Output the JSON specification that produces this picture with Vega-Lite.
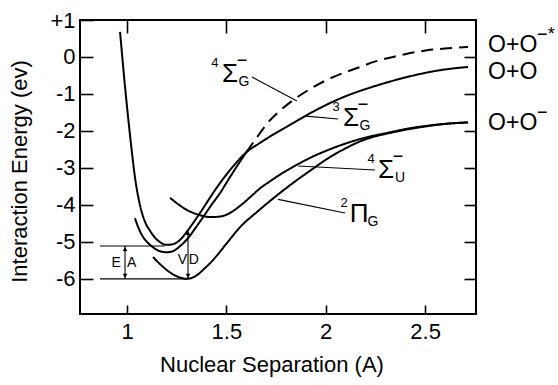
{
  "$schema": "https://vega.github.io/schema/vega-lite/v6.json",
  "width": 396,
  "height": 294,
  "autosize": {"type": "none"},
  "padding": {"left": 80, "top": 20, "right": 82, "bottom": 71},
  "background": "white",
  "config": {
    "view": {"stroke": "black", "strokeWidth": 2},
    "font": "Liberation Sans",
    "axis": {"domain": false, "grid": false, "tickColor": "black", "labelColor": "black", "titleColor": "black", "labelFont": "Liberation Sans", "titleFont": "Liberation Sans", "titleFontWeight": "normal", "tickWidth": 1.6}
  },
  "datasets": {
    "curves": [
      {"series": "3Sg", "x": 0.965, "y": 0.68}, {"series": "3Sg", "x": 0.99, "y": -0.8}, {"series": "3Sg", "x": 1.02, "y": -2.35}, {"series": "3Sg", "x": 1.04, "y": -3.25}, {"series": "3Sg", "x": 1.065, "y": -4.0}, {"series": "3Sg", "x": 1.09, "y": -4.45}, {"series": "3Sg", "x": 1.116, "y": -4.7}, {"series": "3Sg", "x": 1.14, "y": -4.88}, {"series": "3Sg", "x": 1.164, "y": -5.0}, {"series": "3Sg", "x": 1.2, "y": -5.08}, {"series": "3Sg", "x": 1.232, "y": -5.06}, {"series": "3Sg", "x": 1.27, "y": -4.93}, {"series": "3Sg", "x": 1.307, "y": -4.68}, {"series": "3Sg", "x": 1.367, "y": -4.22}, {"series": "3Sg", "x": 1.443, "y": -3.6}, {"series": "3Sg", "x": 1.483, "y": -3.3}, {"series": "3Sg", "x": 1.54, "y": -2.92}, {"series": "3Sg", "x": 1.6, "y": -2.58}, {"series": "3Sg", "x": 1.67, "y": -2.32}, {"series": "3Sg", "x": 1.735, "y": -2.1}, {"series": "3Sg", "x": 1.8, "y": -1.9}, {"series": "3Sg", "x": 1.886, "y": -1.63}, {"series": "3Sg", "x": 1.95, "y": -1.44}, {"series": "3Sg", "x": 2.02, "y": -1.25}, {"series": "3Sg", "x": 2.087, "y": -1.09}, {"series": "3Sg", "x": 2.15, "y": -0.96}, {"series": "3Sg", "x": 2.24, "y": -0.8}, {"series": "3Sg", "x": 2.34, "y": -0.64}, {"series": "3Sg", "x": 2.45, "y": -0.49}, {"series": "3Sg", "x": 2.56, "y": -0.37}, {"series": "3Sg", "x": 2.64, "y": -0.31}, {"series": "3Sg", "x": 2.716, "y": -0.27},
      {"series": "4Sg", "x": 1.04, "y": -4.36}, {"series": "4Sg", "x": 1.06, "y": -4.65}, {"series": "4Sg", "x": 1.08, "y": -4.86}, {"series": "4Sg", "x": 1.11, "y": -5.05}, {"series": "4Sg", "x": 1.14, "y": -5.18}, {"series": "4Sg", "x": 1.164, "y": -5.25}, {"series": "4Sg", "x": 1.2, "y": -5.28}, {"series": "4Sg", "x": 1.235, "y": -5.24}, {"series": "4Sg", "x": 1.27, "y": -5.1}, {"series": "4Sg", "x": 1.307, "y": -4.9}, {"series": "4Sg", "x": 1.345, "y": -4.62}, {"series": "4Sg", "x": 1.383, "y": -4.33}, {"series": "4Sg", "x": 1.425, "y": -4.0}, {"series": "4Sg", "x": 1.468, "y": -3.68}, {"series": "4Sg", "x": 1.503, "y": -3.38}, {"series": "4Sg", "x": 1.55, "y": -2.98}, {"series": "4Sg", "x": 1.6, "y": -2.58},
      {"series": "4Sg dashed", "x": 1.6, "y": -2.58}, {"series": "4Sg dashed", "x": 1.67, "y": -2.05}, {"series": "4Sg dashed", "x": 1.705, "y": -1.8}, {"series": "4Sg dashed", "x": 1.77, "y": -1.45}, {"series": "4Sg dashed", "x": 1.835, "y": -1.17}, {"series": "4Sg dashed", "x": 1.92, "y": -0.87}, {"series": "4Sg dashed", "x": 2.006, "y": -0.62}, {"series": "4Sg dashed", "x": 2.09, "y": -0.43}, {"series": "4Sg dashed", "x": 2.173, "y": -0.27}, {"series": "4Sg dashed", "x": 2.25, "y": -0.12}, {"series": "4Sg dashed", "x": 2.339, "y": 0.0}, {"series": "4Sg dashed", "x": 2.42, "y": 0.1}, {"series": "4Sg dashed", "x": 2.51, "y": 0.18}, {"series": "4Sg dashed", "x": 2.6, "y": 0.23}, {"series": "4Sg dashed", "x": 2.716, "y": 0.27},
      {"series": "4Su", "x": 1.2165, "y": -3.81}, {"series": "4Su", "x": 1.26, "y": -3.99}, {"series": "4Su", "x": 1.302, "y": -4.14}, {"series": "4Su", "x": 1.345, "y": -4.24}, {"series": "4Su", "x": 1.382, "y": -4.3}, {"series": "4Su", "x": 1.418, "y": -4.33}, {"series": "4Su", "x": 1.46, "y": -4.32}, {"series": "4Su", "x": 1.503, "y": -4.26}, {"series": "4Su", "x": 1.57, "y": -4.02}, {"series": "4Su", "x": 1.634, "y": -3.72}, {"series": "4Su", "x": 1.67, "y": -3.55}, {"series": "4Su", "x": 1.72, "y": -3.36}, {"series": "4Su", "x": 1.77, "y": -3.18}, {"series": "4Su", "x": 1.87, "y": -2.87}, {"series": "4Su", "x": 1.94, "y": -2.68}, {"series": "4Su", "x": 2.0, "y": -2.54}, {"series": "4Su", "x": 2.1, "y": -2.34}, {"series": "4Su", "x": 2.2, "y": -2.18}, {"series": "4Su", "x": 2.32, "y": -2.04}, {"series": "4Su", "x": 2.42, "y": -1.93}, {"series": "4Su", "x": 2.525, "y": -1.85}, {"series": "4Su", "x": 2.62, "y": -1.8}, {"series": "4Su", "x": 2.716, "y": -1.77},
      {"series": "2Pg", "x": 1.131, "y": -5.41}, {"series": "2Pg", "x": 1.166, "y": -5.6}, {"series": "2Pg", "x": 1.2, "y": -5.76}, {"series": "2Pg", "x": 1.232, "y": -5.88}, {"series": "2Pg", "x": 1.265, "y": -5.96}, {"series": "2Pg", "x": 1.302, "y": -6.0}, {"series": "2Pg", "x": 1.352, "y": -5.9}, {"series": "2Pg", "x": 1.39, "y": -5.72}, {"series": "2Pg", "x": 1.433, "y": -5.49}, {"series": "2Pg", "x": 1.503, "y": -5.03}, {"series": "2Pg", "x": 1.569, "y": -4.6}, {"series": "2Pg", "x": 1.654, "y": -4.19}, {"series": "2Pg", "x": 1.7, "y": -3.98}, {"series": "2Pg", "x": 1.755, "y": -3.74}, {"series": "2Pg", "x": 1.8, "y": -3.55}, {"series": "2Pg", "x": 1.87, "y": -3.27}, {"series": "2Pg", "x": 1.936, "y": -3.02}, {"series": "2Pg", "x": 2.0, "y": -2.78}, {"series": "2Pg", "x": 2.1, "y": -2.47}, {"series": "2Pg", "x": 2.17, "y": -2.29}, {"series": "2Pg", "x": 2.24, "y": -2.16}, {"series": "2Pg", "x": 2.31, "y": -2.07}, {"series": "2Pg", "x": 2.4, "y": -1.97}, {"series": "2Pg", "x": 2.5, "y": -1.88}, {"series": "2Pg", "x": 2.6, "y": -1.81}, {"series": "2Pg", "x": 2.716, "y": -1.77}
    ],
    "leaders": [
      {"name": "4Sg", "x": 1.629, "y": -0.54}, {"name": "4Sg", "x": 1.855, "y": -1.19},
      {"name": "3Sg", "x": 1.9, "y": -1.6}, {"name": "3Sg", "x": 2.062, "y": -1.677},
      {"name": "4Su", "x": 1.861, "y": -2.95}, {"name": "4Su", "x": 2.248, "y": -3.056},
      {"name": "2Pg", "x": 1.76, "y": -3.85}, {"name": "2Pg", "x": 2.097, "y": -4.22}
    ],
    "hlines": [
      {"x": 0.864, "x2": 1.19, "y": -5.11},
      {"x": 0.864, "x2": 1.302, "y": -6.0}
    ],
    "arrows": [
      {"name": "EA", "x": 0.99, "ytop": -5.11, "ybot": -6.0},
      {"name": "VD", "x": 1.307, "ytop": -4.68, "ybot": -6.0}
    ],
    "letters": [
      {"t": "E", "x": 0.945, "y": -5.58}, {"t": "A", "x": 1.023, "y": -5.58},
      {"t": "V", "x": 1.279, "y": -5.49}, {"t": "D", "x": 1.336, "y": -5.49}
    ],
    "states": [
      {"name": "4Sg", "num": "4", "glyph": "Σ", "sub": "G", "minus": "−", "x": 1.518, "y": -0.46},
      {"name": "3Sg", "num": "3", "glyph": "Σ", "sub": "G", "minus": "−", "x": 2.127, "y": -1.65},
      {"name": "4Su", "num": "4", "glyph": "Σ", "sub": "U", "minus": "−", "x": 2.3035, "y": -3.056},
      {"name": "2Pg", "num": "2", "glyph": "Π", "sub": "G", "minus": "", "x": 2.1676, "y": -4.246}
    ],
    "asym": [
      {"base": "O+O", "sup": "−*", "x": 2.817, "y": 0.324},
      {"base": "O+O", "sup": "", "x": 2.817, "y": -0.406},
      {"base": "O+O", "sup": "−", "x": 2.817, "y": -1.785}
    ]
  },
  "encoding": {
    "x": {"field": "x", "type": "quantitative", "scale": {"domain": [0.7635, 2.756], "nice": false, "zero": false}, "axis": null},
    "y": {"field": "y", "type": "quantitative", "scale": {"domain": [-6.95, 1], "nice": false, "zero": false}, "axis": null}
  },
  "resolve": {"axis": {"x": "independent", "y": "independent"}},
  "layer": [
    {
      "data": {"name": "curves"},
      "mark": {"type": "line", "color": "black", "strokeWidth": 2, "interpolate": "monotone"},
      "encoding": {
        "x": {"field": "x", "type": "quantitative", "scale": {"domain": [0.7635, 2.756], "nice": false, "zero": false},
          "axis": {"orient": "bottom", "values": [1, 1.5, 2, 2.5], "labelExpr": "'' + datum.value", "tickSize": -9, "labelPadding": 16, "labelFontSize": 22, "title": "Nuclear Separation (A)", "titleFontSize": 22, "titleX": 191.5, "titleY": 57, "titleBaseline": "alphabetic", "titleAlign": "center"}},
        "y": {"field": "y", "type": "quantitative", "scale": {"domain": [-6.95, 1], "nice": false, "zero": false},
          "axis": {"orient": "left", "values": [-6, -5, -4, -3, -2, -1, 0, 1], "labelExpr": "datum.value > 0 ? '+' + datum.value : '' + datum.value", "tickSize": -13, "labelPadding": 18, "labelFontSize": 22, "title": "Interaction Energy (ev)", "titleFontSize": 22, "titleX": -54, "titleY": 151, "titleBaseline": "alphabetic", "titleAlign": "center", "titleAngle": -90}},
        "detail": {"field": "series", "type": "nominal"},
        "strokeDash": {"field": "series", "type": "nominal", "scale": {"domain": ["3Sg", "4Sg", "4Sg dashed", "4Su", "2Pg"], "range": [[1, 0], [1, 0], [12, 7], [1, 0], [1, 0]]}, "legend": null}
      }
    },
    {
      "data": {"name": "curves"},
      "mark": {"type": "point", "opacity": 0},
      "encoding": {
        "x": {"field": "x", "type": "quantitative", "scale": {"domain": [0.7635, 2.756], "nice": false, "zero": false},
          "axis": {"orient": "top", "values": [1, 1.5, 2, 2.5], "labels": false, "tickSize": -13, "title": null}},
        "y": {"field": "y", "type": "quantitative", "scale": {"domain": [-6.95, 1], "nice": false, "zero": false},
          "axis": {"orient": "right", "values": [-6, -5, -4, -3, -2, -1, 0], "labels": false, "tickSize": -12, "title": null}}
      }
    },
    {
      "data": {"name": "leaders"},
      "mark": {"type": "line", "color": "black", "strokeWidth": 1.1},
      "encoding": {"detail": {"field": "name", "type": "nominal"}}
    },
    {
      "data": {"name": "hlines"},
      "mark": {"type": "rule", "color": "black", "strokeWidth": 1.1},
      "encoding": {"x2": {"field": "x2"}}
    },
    {
      "data": {"name": "arrows"},
      "mark": {"type": "rule", "color": "black", "strokeWidth": 1.1},
      "encoding": {
        "y": {"field": "ytop", "type": "quantitative", "scale": {"domain": [-6.95, 1], "nice": false, "zero": false}, "axis": null},
        "y2": {"field": "ybot"}
      }
    },
    {
      "data": {"name": "arrows"},
      "mark": {"type": "point", "shape": "triangle-up", "filled": true, "size": 22, "color": "black", "opacity": 1, "yOffset": 3},
      "encoding": {
        "y": {"field": "ytop", "type": "quantitative", "scale": {"domain": [-6.95, 1], "nice": false, "zero": false}, "axis": null}
      }
    },
    {
      "data": {"name": "arrows"},
      "mark": {"type": "point", "shape": "triangle-down", "filled": true, "size": 22, "color": "black", "opacity": 1, "yOffset": -3},
      "encoding": {
        "y": {"field": "ybot", "type": "quantitative", "scale": {"domain": [-6.95, 1], "nice": false, "zero": false}, "axis": null}
      }
    },
    {
      "data": {"name": "letters"},
      "mark": {"type": "text", "fontSize": 14, "color": "black", "align": "center", "baseline": "middle"},
      "encoding": {"text": {"field": "t"}}
    },
    {
      "data": {"name": "states"},
      "mark": {"type": "text", "fontSize": 26, "color": "black", "align": "center", "baseline": "middle"},
      "encoding": {"text": {"field": "glyph"}}
    },
    {
      "data": {"name": "states"},
      "mark": {"type": "text", "fontSize": 13, "color": "black", "align": "center", "baseline": "middle", "dx": -15, "dy": -11},
      "encoding": {"text": {"field": "num"}}
    },
    {
      "data": {"name": "states"},
      "mark": {"type": "text", "fontSize": 14, "color": "black", "align": "center", "baseline": "middle", "dx": 14, "dy": 8},
      "encoding": {"text": {"field": "sub"}}
    },
    {
      "data": {"name": "states"},
      "mark": {"type": "text", "fontSize": 18, "color": "black", "align": "center", "baseline": "middle", "dx": 12, "dy": -13},
      "encoding": {"text": {"field": "minus"}}
    },
    {
      "data": {"name": "asym"},
      "mark": {"type": "text", "fontSize": 23, "color": "black", "align": "left", "baseline": "middle"},
      "encoding": {"text": {"field": "base"}}
    },
    {
      "data": {"name": "asym"},
      "mark": {"type": "text", "fontSize": 18, "color": "black", "align": "left", "baseline": "middle", "dx": 49, "dy": -10},
      "encoding": {"text": {"field": "sup"}}
    }
  ]
}
